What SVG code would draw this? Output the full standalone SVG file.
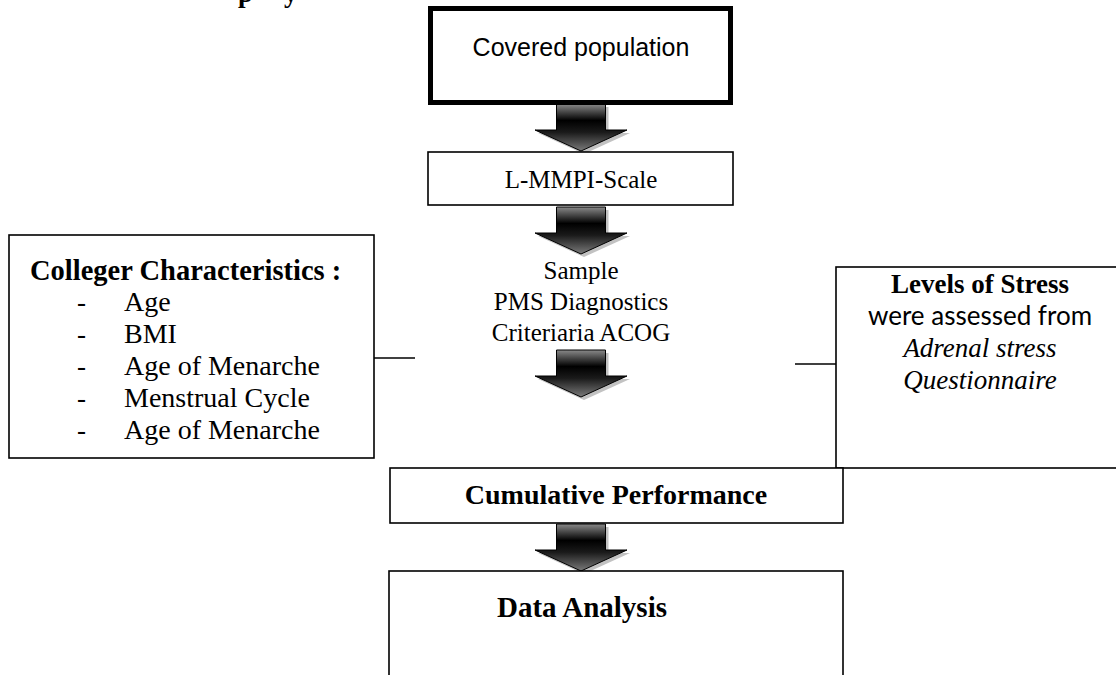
<svg xmlns="http://www.w3.org/2000/svg" xmlns:xlink="http://www.w3.org/1999/xlink" width="1116" height="675" viewBox="0 0 1116 675">
<style>
.box{fill:#fff;stroke:#000;stroke-width:1.6}
.thick{fill:#fff;stroke:#000;stroke-width:5}
.tr{font-family:"Liberation Serif","Times New Roman",serif;font-size:27px;fill:#000}
.b{font-weight:bold}
.i{font-style:italic}
.sans{font-family:"Liberation Sans",Arial,sans-serif;font-size:25px;fill:#000}
.cal{font-family:Lato,"Open Sans",sans-serif;font-size:26px;fill:#000}
.c{text-anchor:middle}
.conn{stroke:#000;stroke-width:1.5;fill:none}
</style>
<defs>
<linearGradient id="ag" x1="0" y1="0" x2="0" y2="1">
<stop offset="0" stop-color="#8a8a8a"/>
<stop offset="0.35" stop-color="#000"/>
<stop offset="0.6" stop-color="#1a1a1a"/>
<stop offset="1" stop-color="#7a7a7a"/>
</linearGradient>
<path id="arw" d="M-24.5,0 L24.5,0 L24.5,26 L46,26 L0,47 L-46,26 L-24.5,26 Z"/>
</defs>
<text class="tr b" x="238" y="2">p</text>
<text class="tr b" x="284" y="2">y</text>
<g id="connectors">
<line class="conn" x1="374" y1="358" x2="415" y2="358"/>
<line class="conn" x1="795" y1="364" x2="836" y2="364"/>
<g id="arrow1"><use href="#arw" x="584" y="107" fill="#999" opacity="0.6"/><use href="#arw" x="581" y="104" fill="url(#ag)" stroke="#000" stroke-width="1"/></g>
<g id="arrow2"><use href="#arw" x="584" y="210" fill="#999" opacity="0.6"/><use href="#arw" x="581" y="207" fill="url(#ag)" stroke="#000" stroke-width="1"/></g>
<g id="arrow3"><use href="#arw" x="584" y="353" fill="#999" opacity="0.6"/><use href="#arw" x="581" y="350" fill="url(#ag)" stroke="#000" stroke-width="1"/></g>
<g id="arrow4"><use href="#arw" x="584" y="527" fill="#999" opacity="0.6"/><use href="#arw" x="581" y="524" fill="url(#ag)" stroke="#000" stroke-width="1"/></g>
</g>
<g id="covered">
<rect class="thick" x="430.5" y="8.5" width="300" height="94"/>
<text class="sans c" x="581" y="56">Covered population</text>
</g>
<g id="lmmpi">
<rect class="box" x="428" y="152" width="305" height="53"/>
<text class="tr c" x="581" y="188" style="font-size:25px">L-MMPI-Scale</text>
</g>
<g id="sample">
<text class="tr c" x="581" y="279" style="font-size:25px">Sample</text>
<text class="tr c" x="581" y="310" style="font-size:25px">PMS Diagnostics</text>
<text class="tr c" x="581" y="341" style="font-size:25px">Criteriaria ACOG</text>
</g>
<g id="colleger">
<rect class="box" x="9" y="235" width="365" height="223"/>
<text class="tr b" x="30" y="280" style="font-size:28.5px">Colleger Characteristics :</text>
<text class="tr" x="77" y="311">-</text><text class="tr" x="124" y="311" style="font-size:28px">Age</text>
<text class="tr" x="77" y="343">-</text><text class="tr" x="124" y="343" style="font-size:28px">BMI</text>
<text class="tr" x="77" y="375">-</text><text class="tr" x="124" y="375" style="font-size:28px">Age of Menarche</text>
<text class="tr" x="77" y="407">-</text><text class="tr" x="124" y="407" style="font-size:28px">Menstrual Cycle</text>
<text class="tr" x="77" y="439">-</text><text class="tr" x="124" y="439" style="font-size:28px">Age of Menarche</text>
</g>
<g id="stress">
<rect class="box" x="836" y="267" width="300" height="201"/>
<text class="tr b c" x="980" y="293">Levels of Stress</text>
<text class="cal c" x="980" y="325">were assessed from</text>
<text class="tr i c" x="980" y="357">Adrenal stress</text>
<text class="tr i c" x="980" y="389">Questionnaire</text>
</g>
<g id="cumulative">
<rect class="box" x="390" y="468" width="453" height="55"/>
<text class="tr b c" x="616" y="504" style="font-size:28px">Cumulative Performance</text>
</g>
<g id="analysis">
<rect class="box" x="389" y="571" width="454" height="130"/>
<text class="tr b c" x="582" y="617" style="font-size:29px">Data Analysis</text>
</g>
</svg>
